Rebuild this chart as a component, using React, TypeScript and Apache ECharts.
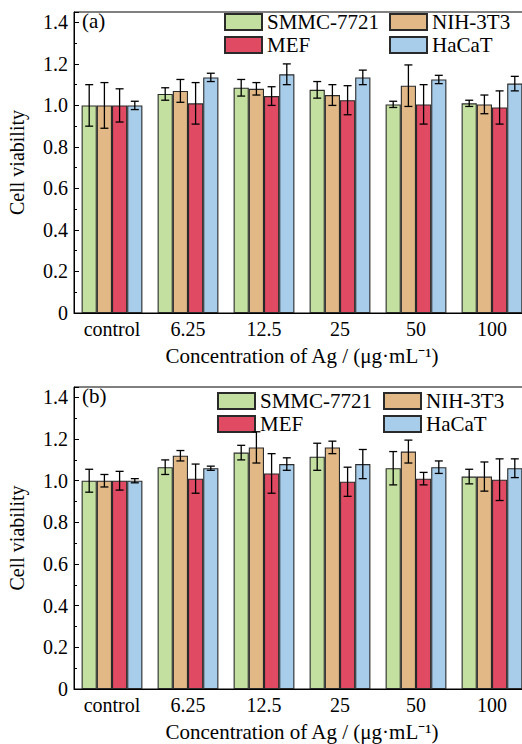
import React, { useEffect, useRef } from "react";
import * as echarts from "echarts";

const categories = ["control", "6.25", "12.5", "25", "50", "100"];
const seriesNames = ["SMMC-7721", "NIH-3T3", "MEF", "HaCaT"];
const colors = ["#c4e0a0", "#e2b986", "#e04a63", "#a8cdea"];

// panel (a)
const aSMMC = [1.0, 1.055, 1.085, 1.075, 1.005, 1.01];
const aSMMCErr = [0.1, 0.03, 0.04, 0.04, 0.015, 0.015];
const aNIH = [1.0, 1.07, 1.08, 1.05, 1.095, 1.005];
const aNIHErr = [0.11, 0.055, 0.03, 0.05, 0.1, 0.045];
const aMEF = [1.0, 1.01, 1.045, 1.025, 1.005, 0.99];
const aMEFErr = [0.08, 0.1, 0.045, 0.07, 0.095, 0.08];
const aHaCaT = [1.0, 1.135, 1.15, 1.135, 1.125, 1.105];
const aHaCaTErr = [0.02, 0.02, 0.05, 0.035, 0.02, 0.035];

// panel (b)
const bSMMC = [1.0, 1.065, 1.135, 1.115, 1.06, 1.02];
const bSMMCErr = [0.055, 0.035, 0.035, 0.065, 0.08, 0.035];
const bNIH = [1.0, 1.12, 1.16, 1.16, 1.14, 1.02];
const bNIHErr = [0.03, 0.025, 0.075, 0.03, 0.055, 0.07];
const bMEF = [1.0, 1.01, 1.035, 0.995, 1.01, 1.005];
const bMEFErr = [0.045, 0.07, 0.095, 0.07, 0.03, 0.1];
const bHaCaT = [1.0, 1.06, 1.08, 1.08, 1.065, 1.06];
const bHaCaTErr = [0.01, 0.01, 0.03, 0.07, 0.03, 0.045];

const yTicks = ["0", "0.2", "0.4", "0.6", "0.8", "1.0", "1.2", "1.4"];

const FONT = "Liberation Serif, Times New Roman, serif";
const CAT_GAP = 0.2;

const panels = [
  { means: [aSMMC, aNIH, aMEF, aHaCaT], errs: [aSMMCErr, aNIHErr, aMEFErr, aHaCaTErr], label: "(a)" },
  { means: [bSMMC, bNIH, bMEF, bHaCaT], errs: [bSMMCErr, bNIHErr, bMEFErr, bHaCaTErr], label: "(b)" },
];

export default function App() {
  const ref = useRef<HTMLDivElement>(null);
  useEffect(() => {
    if (!ref.current) return;
    const chart = echarts.init(ref.current, null, { renderer: "svg" });
    const grids = [
      { left: 74, top: 12, width: 456, height: 301 },
      { left: 74, top: 387, width: 456, height: 302 },
    ];
    const xAxes: any[] = [];
    const yAxes: any[] = [];
    const series: any[] = [];
    const legends: any[] = [];
    const legendTops = [11, 390];
    const legendLefts = [
      [224, 389],
      [217, 383],
    ];
    panels.forEach((p, pi) => {
      xAxes.push({
        type: "category",
        gridIndex: pi,
        data: categories,
        boundaryGap: true,
        name: "Concentration of Ag / (μg·mL⁻¹)",
        nameLocation: "middle",
        nameGap: 32,
        nameMoveOverlap: false,
        nameTextStyle: { fontFamily: FONT, fontSize: 21, color: "#000" },
        axisLine: { lineStyle: { color: "#000", width: 1 } },
        axisTick: { inside: true, length: 3, lineStyle: { color: "#000" } },
        axisLabel: { fontFamily: FONT, fontSize: 20, color: "#000", margin: 6 },
      });
      yAxes.push({
        type: "value",
        gridIndex: pi,
        min: 0,
        max: 1.45,
        interval: 0.2,
        name: "Cell viability",
        nameLocation: "middle",
        nameGap: 47,
        nameMoveOverlap: false,
        nameTextStyle: { fontFamily: FONT, fontSize: 20, color: "#000" },
        axisLine: { show: true, lineStyle: { color: "#000", width: 1 } },
        axisTick: { show: true, inside: true, length: 5, lineStyle: { color: "#000" } },
        minorTick: { show: true, splitNumber: 2, length: 3, lineStyle: { color: "#000" } },
        splitLine: { show: false },
        axisLabel: {
          fontFamily: FONT,
          fontSize: 20,
          color: "#000",
          margin: 6,
          formatter: (v: number) => {
            const i = Math.round(v / 0.2);
            return Math.abs(v - i * 0.2) < 1e-6 && i < yTicks.length ? yTicks[i] : "";
          },
        },
      });
      p.means.forEach((m, si) => {
        series.push({
          type: "bar",
          name: seriesNames[si],
          xAxisIndex: pi,
          yAxisIndex: pi,
          data: m,
          barGap: "0%",
          barCategoryGap: CAT_GAP * 100 + "%",
          itemStyle: { color: colors[si], borderColor: "#2a2a2a", borderWidth: 1.1 },
        });
      });
      const errData: number[][] = [];
      p.means.forEach((m, si) => {
        m.forEach((v, ci) => errData.push([ci, si, v, p.errs[si][ci]]));
      });
      series.push({
        type: "custom",
        xAxisIndex: pi,
        yAxisIndex: pi,
        data: errData,
        encode: { x: 0, y: 2 },
        z: 10,
        silent: true,
        renderItem: (params: any, api: any) => {
          const ci = api.value(0);
          const si = api.value(1);
          const v = api.value(2);
          const e = api.value(3);
          const band = api.size([1, 0])[0];
          const groupW = band * (1 - CAT_GAP);
          const bw = groupW / 4;
          const c = api.coord([ci, v]);
          const x = c[0] - groupW / 2 + (si + 0.5) * bw;
          const yHi = api.coord([ci, v + e])[1];
          const yLo = api.coord([ci, v - e])[1];
          const cap = 4;
          const style = { stroke: "#000", lineWidth: 1.3 };
          return {
            type: "group",
            children: [
              { type: "line", shape: { x1: x, y1: yHi, x2: x, y2: yLo }, style },
              { type: "line", shape: { x1: x - cap, y1: yHi, x2: x + cap, y2: yHi }, style },
              { type: "line", shape: { x1: x - cap, y1: yLo, x2: x + cap, y2: yLo }, style },
            ],
          };
        },
      });
      [0, 1].forEach((col) => {
        legends.push({
          orient: "vertical",
          left: legendLefts[pi][col],
          top: legendTops[pi],
          padding: 0,
          itemWidth: 37,
          itemHeight: 16,
          itemGap: 1,
          icon: "rect",
          data: col === 0 ? ["SMMC-7721", "MEF"] : ["NIH-3T3", "HaCaT"],
          textStyle: { fontFamily: FONT, fontSize: 21, lineHeight: 22, color: "#000" },
        });
      });
    });
    chart.setOption({
      animation: false,
      backgroundColor: "#fff",
      grid: grids.map((g) => ({
        ...g,
        show: true,
        borderColor: "#000",
        borderWidth: 1,
        backgroundColor: "transparent",
        containLabel: false,
        outerBoundsMode: "none",
      })),
      xAxis: xAxes,
      yAxis: yAxes,
      legend: legends,
      series,
      graphic: [
        { type: "text", left: 82, top: 10, style: { text: "(a)", font: `21px ${FONT}`, fill: "#000" } },
        { type: "text", left: 82, top: 385, style: { text: "(b)", font: `21px ${FONT}`, fill: "#000" } },
      ],
    });
    return () => chart.dispose();
  }, []);
  return (
    <div style={{ position: "fixed", left: 0, top: 0, width: 522, height: 744, overflow: "hidden", background: "#fff" }}>
      <div ref={ref} style={{ width: 540, height: 744 }} />
    </div>
  );
}
